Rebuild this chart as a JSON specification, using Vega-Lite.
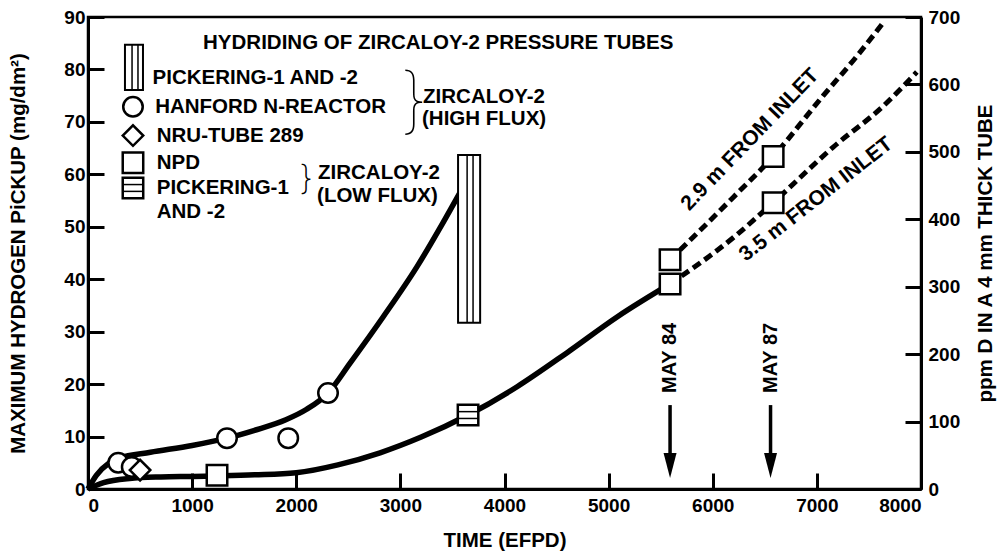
{
  "$schema": "https://vega.github.io/schema/vega-lite/v6.json",
  "width": 833,
  "height": 472,
  "autosize": {"type": "none"},
  "padding": {"left": 88, "top": 17, "right": 80, "bottom": 68},
  "background": "white",
  "config": {
    "view": {"stroke": "black", "strokeWidth": 2.5},
    "axis": {
      "labelFont": "Liberation Sans", "labelFontWeight": "bold", "labelFontSize": 19, "labelColor": "black",
      "titleFont": "Liberation Sans", "titleFontWeight": "bold", "titleFontSize": 20.5, "titleColor": "black",
      "domainColor": "black", "domainWidth": 3, "tickColor": "black", "tickWidth": 3, "grid": false, "format": "d"
    },
    "text": {"font": "Liberation Sans", "fontWeight": "bold", "fontSize": 20.5, "color": "black"}
  },
  "datasets": {
    "hanford": [
      {"t": 0, "h": 0}, {"t": 80, "h": 2.6}, {"t": 200, "h": 4.9}, {"t": 300, "h": 5.9}, {"t": 600, "h": 7.0},
      {"t": 1000, "h": 8.3}, {"t": 1335, "h": 9.7}, {"t": 1600, "h": 11.2}, {"t": 1900, "h": 13.2},
      {"t": 2100, "h": 15.2}, {"t": 2305, "h": 18.3}, {"t": 2517, "h": 24.0}, {"t": 2834, "h": 32.8},
      {"t": 3160, "h": 42.4}, {"t": 3410, "h": 50.8}, {"t": 3600, "h": 57.5}
    ],
    "npd": [
      {"t": 0, "h": 0}, {"t": 150, "h": 1.2}, {"t": 400, "h": 2.0}, {"t": 700, "h": 2.3}, {"t": 1000, "h": 2.4},
      {"t": 1240, "h": 2.5}, {"t": 1600, "h": 2.7}, {"t": 2000, "h": 3.1}, {"t": 2400, "h": 4.6},
      {"t": 2805, "h": 6.9}, {"t": 3200, "h": 9.9}, {"t": 3650, "h": 14.1}, {"t": 4121, "h": 19.5},
      {"t": 4601, "h": 26.0}, {"t": 5081, "h": 32.8}, {"t": 5590, "h": 39.1}
    ],
    "proj": [
      {"s": "2.9 m", "t": 5590, "h": 43.7}, {"s": "2.9 m", "t": 6196, "h": 55.6}, {"s": "2.9 m", "t": 6580, "h": 63.4},
      {"s": "2.9 m", "t": 7061, "h": 75.0}, {"s": "2.9 m", "t": 7387, "h": 82.6}, {"s": "2.9 m", "t": 7640, "h": 89.0},
      {"s": "3.5 m", "t": 5590, "h": 39.1}, {"s": "3.5 m", "t": 6196, "h": 47.9}, {"s": "3.5 m", "t": 6580, "h": 54.6},
      {"s": "3.5 m", "t": 7157, "h": 65.2}, {"s": "3.5 m", "t": 7637, "h": 73.0}, {"s": "3.5 m", "t": 7960, "h": 79.5}
    ]
  },
  "layer": [
    {
      "layer": [
        {
          "data": {"name": "hanford"},
          "mark": {"type": "line", "color": "black", "strokeWidth": 5.5, "interpolate": "monotone"},
          "encoding": {
            "x": {"field": "t", "type": "quantitative", "scale": {"domain": [0, 8000], "nice": false},
              "axis": {"values": [0, 1000, 2000, 3000, 4000, 5000, 6000, 7000, 8000], "tickSize": -16, "labelPadding": 23, "title": "TIME (EFPD)", "titlePadding": 15}},
            "y": {"field": "h", "type": "quantitative", "scale": {"domain": [0, 90], "nice": false},
              "axis": {"values": [0, 10, 20, 30, 40, 50, 60, 70, 80, 90], "tickSize": -16, "labelPadding": 19, "title": "MAXIMUM HYDROGEN PiCKUP (mg/dm²)", "titlePadding": 35}}
          }
        },
        {
          "data": {"name": "npd"},
          "mark": {"type": "line", "color": "black", "strokeWidth": 5.5, "interpolate": "monotone"},
          "encoding": {"x": {"field": "t", "type": "quantitative"}, "y": {"field": "h", "type": "quantitative"}}
        },
        {
          "data": {"name": "proj"},
          "mark": {"type": "line", "color": "black", "strokeWidth": 5, "strokeDash": [9, 5], "interpolate": "monotone"},
          "encoding": {"x": {"field": "t", "type": "quantitative"}, "y": {"field": "h", "type": "quantitative"}, "detail": {"field": "s"}}
        },
        {
          "data": {"values": [{"x1": 3554, "x2": 3766, "y1": 31.7, "y2": 63.7}, {"x1": 355, "x2": 528, "y1": 76.1, "y2": 84.7}]},
          "mark": {"type": "rect", "fill": "white", "stroke": "black", "strokeWidth": 2},
          "encoding": {"x": {"field": "x1", "type": "quantitative"}, "x2": {"field": "x2"}, "y": {"field": "y1", "type": "quantitative"}, "y2": {"field": "y2"}}
        },
        {
          "data": {"values": [{"x": 3641, "y1": 31.7, "y2": 63.7}, {"x": 3698, "y1": 31.7, "y2": 63.7}, {"x": 423, "y1": 76.1, "y2": 84.7}, {"x": 480, "y1": 76.1, "y2": 84.7}]},
          "mark": {"type": "rule", "color": "black", "strokeWidth": 1.5},
          "encoding": {"x": {"field": "x", "type": "quantitative"}, "y": {"field": "y1", "type": "quantitative"}, "y2": {"field": "y2"}}
        },
        {
          "data": {"values": [{"t": 290, "h": 5.0}, {"t": 420, "h": 4.2}, {"t": 1335, "h": 9.7}, {"t": 1923, "h": 9.7}, {"t": 2305, "h": 18.3}, {"t": 432, "h": 72.9}]},
          "mark": {"type": "point", "shape": "circle", "filled": true, "fill": "white", "stroke": "black", "strokeWidth": 2.5, "size": 380, "opacity": 1},
          "encoding": {"x": {"field": "t", "type": "quantitative"}, "y": {"field": "h", "type": "quantitative"}}
        },
        {
          "data": {"values": [{"t": 500, "h": 3.6}, {"t": 432, "h": 67.4}]},
          "mark": {"type": "point", "shape": "diamond", "filled": true, "fill": "white", "stroke": "black", "strokeWidth": 2.5, "size": 420, "opacity": 1},
          "encoding": {"x": {"field": "t", "type": "quantitative"}, "y": {"field": "h", "type": "quantitative"}}
        },
        {
          "data": {"values": [{"t": 1239, "h": 2.6}, {"t": 5590, "h": 39.1}, {"t": 5590, "h": 43.7}, {"t": 6580, "h": 63.4}, {"t": 6580, "h": 54.6}, {"t": 3650, "h": 14.1}, {"t": 432, "h": 62.2}, {"t": 432, "h": 57.4}]},
          "mark": {"type": "point", "shape": "square", "filled": true, "fill": "white", "stroke": "black", "strokeWidth": 2.5, "size": 420, "opacity": 1},
          "encoding": {"x": {"field": "t", "type": "quantitative"}, "y": {"field": "h", "type": "quantitative"}}
        },
        {
          "data": {"values": [{"x1": 3552, "x2": 3748, "y": 13.45}, {"x1": 3552, "x2": 3748, "y": 14.75}, {"x1": 334, "x2": 530, "y": 56.75}, {"x1": 334, "x2": 530, "y": 58.05}]},
          "mark": {"type": "rule", "color": "black", "strokeWidth": 1.5},
          "encoding": {"x": {"field": "x1", "type": "quantitative"}, "x2": {"field": "x2"}, "y": {"field": "y", "type": "quantitative"}}
        },
        {
          "data": {"values": [{"t": 5590, "top": 16.0, "bot": 6.0}, {"t": 6555, "top": 16.0, "bot": 6.0}]},
          "mark": {"type": "rule", "color": "black", "strokeWidth": 3.5},
          "encoding": {"x": {"field": "t", "type": "quantitative"}, "y": {"field": "top", "type": "quantitative"}, "y2": {"field": "bot"}}
        },
        {
          "data": {"values": [{"t": 5590, "h": 4.5}, {"t": 6555, "h": 4.5}]},
          "mark": {"type": "point", "shape": "M-0.52,-1L0.52,-1L0,1Z", "filled": true, "color": "black", "size": 625, "opacity": 1},
          "encoding": {"x": {"field": "t", "type": "quantitative"}, "y": {"field": "h", "type": "quantitative"}}
        },
        {
          "data": {"values": [
            {"x": 1105, "y": 85.1, "label": "HYDRIDING OF ZIRCALOY-2 PRESSURE TUBES"},
            {"x": 620, "y": 78.4, "label": "PICKERING-1 AND -2"},
            {"x": 645, "y": 72.9, "label": "HANFORD N-REACTOR"},
            {"x": 660, "y": 67.4, "label": "NRU-TUBE 289"},
            {"x": 660, "y": 62.2, "label": "NPD"},
            {"x": 660, "y": 57.4, "label": "PICKERING-1"},
            {"x": 660, "y": 52.9, "label": "AND -2"},
            {"x": 3218, "y": 74.8, "label": "ZIRCALOY-2"},
            {"x": 3208, "y": 70.6, "label": "(HIGH FLUX)"},
            {"x": 2209, "y": 60.3, "label": "ZIRCALOY-2"},
            {"x": 2200, "y": 55.9, "label": "(LOW FLUX)"}
          ]},
          "mark": {"type": "text", "align": "left", "baseline": "middle"},
          "encoding": {"x": {"field": "x", "type": "quantitative"}, "y": {"field": "y", "type": "quantitative"}, "text": {"field": "label"}}
        },
        {
          "data": {"values": [{"x": 3093, "y": 72.9, "label": "}"}]},
          "mark": {"type": "text", "align": "center", "baseline": "middle", "fontSize": 72, "fontWeight": 100, "font": "Inter", "dx": 4, "dy": -4},
          "encoding": {"x": {"field": "x", "type": "quantitative"}, "y": {"field": "y", "type": "quantitative"}, "text": {"field": "label"}}
        },
        {
          "data": {"values": [{"x": 2094, "y": 58.6, "label": "}"}]},
          "mark": {"type": "text", "align": "center", "baseline": "middle", "fontSize": 34, "fontWeight": 200, "font": "Inter", "dy": -2},
          "encoding": {"x": {"field": "x", "type": "quantitative"}, "y": {"field": "y", "type": "quantitative"}, "text": {"field": "label"}}
        },
        {
          "data": {"values": [{"x": 5590, "y": 25.0, "label": "MAY 84"}, {"x": 6555, "y": 25.0, "label": "MAY 87"}]},
          "mark": {"type": "text", "align": "center", "baseline": "middle", "angle": 270, "fontSize": 20},
          "encoding": {"x": {"field": "x", "type": "quantitative"}, "y": {"field": "y", "type": "quantitative"}, "text": {"field": "label"}}
        },
        {
          "data": {"values": [{"x": 6359, "y": 66.6, "label": "2.9 m FROM INLET"}]},
          "mark": {"type": "text", "align": "center", "baseline": "middle", "angle": 314, "fontSize": 21},
          "encoding": {"x": {"field": "x", "type": "quantitative"}, "y": {"field": "y", "type": "quantitative"}, "text": {"field": "label"}}
        },
        {
          "data": {"values": [{"x": 6993, "y": 55.2, "label": "3.5 m FROM INLET"}]},
          "mark": {"type": "text", "align": "center", "baseline": "middle", "angle": 322, "fontSize": 21},
          "encoding": {"x": {"field": "x", "type": "quantitative"}, "y": {"field": "y", "type": "quantitative"}, "text": {"field": "label"}}
        }
      ]
    },
    {
      "data": {"values": [{"ppm": 0}, {"ppm": 700}]},
      "mark": {"type": "rule", "opacity": 0},
      "encoding": {
        "y": {"field": "ppm", "type": "quantitative", "scale": {"domain": [0, 700], "nice": false},
          "axis": {"orient": "right", "values": [0, 100, 200, 300, 400, 500, 600, 700], "tickSize": -16, "labelPadding": 23, "title": "ppm D IN A 4 mm THICK TUBE", "titleAngle": 270, "titlePadding": 36}}
      }
    }
  ],
  "resolve": {"scale": {"y": "independent"}}
}
